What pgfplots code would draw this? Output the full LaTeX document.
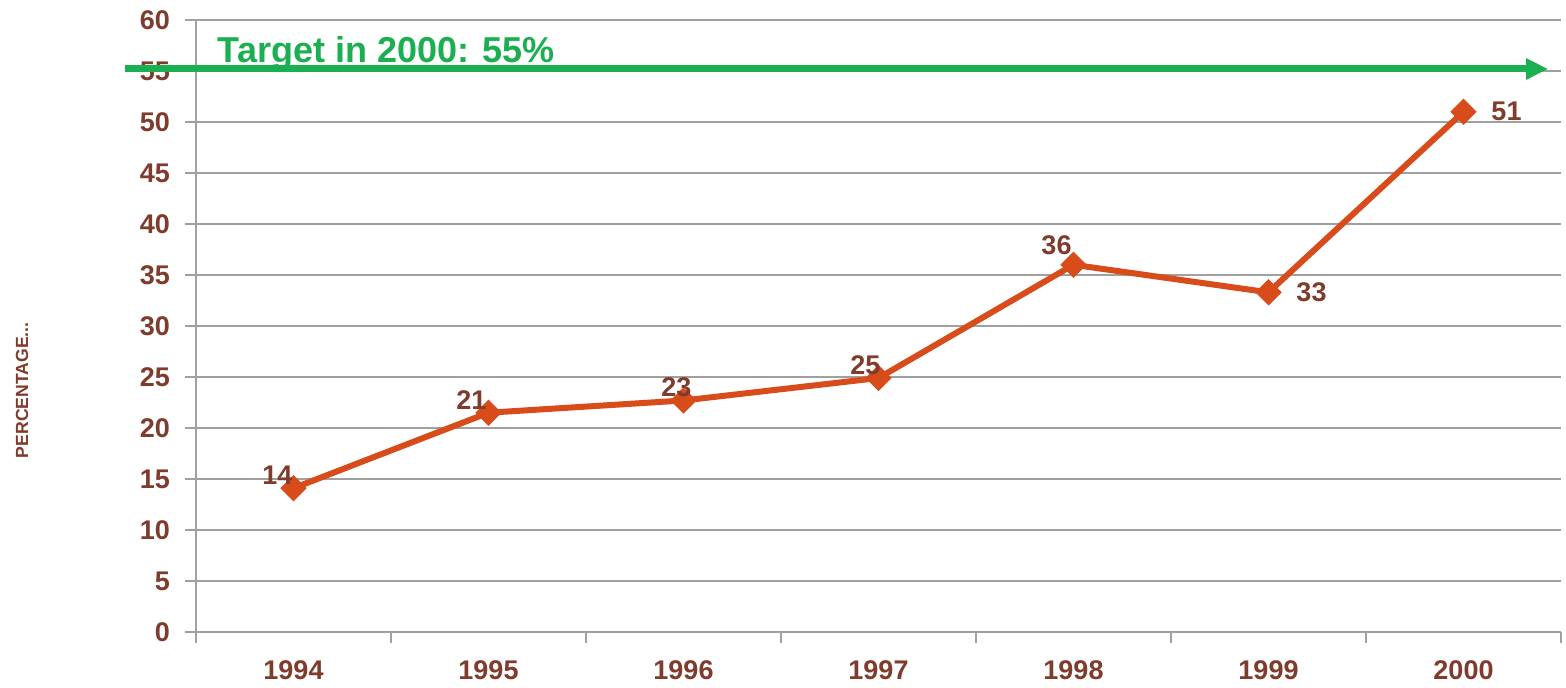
\documentclass[border=0pt]{standalone}
\usepackage{fontspec}
\setmainfont{Liberation Sans}
\usepackage{pgfplots}
\pgfplotsset{compat=1.18}
\usepackage{pgfplotstable}
\usetikzlibrary{arrows.meta}

\definecolor{brownlab}{HTML}{7F3B2C}
\definecolor{lineorange}{HTML}{D84B1A}
\definecolor{targetgreen}{HTML}{1AAF50}
\definecolor{gridgray}{HTML}{A0A0A0}

% share per year; dx/dy place the value labels
\pgfplotstableread{
x y    lab dx   dy
0 14.1 14  -8   6.5
1 21.5 21  -8.5 6.5
2 22.7 23  -3.5 6.5
3 24.9 25  -6.5 6.5
4 36.0 36  -8.5 10
5 33.3 33  21.5 0
6 51.0 51  21.5 0
}\share

\begin{document}
\begin{tikzpicture}
\path[use as bounding box] (-98pt,-27.5pt) rectangle (685pt,316pt);
\begin{axis}[
  scale only axis, width=682.5pt, height=306pt,
  xmin=-0.5, xmax=6.5, ymin=0, ymax=60,
  clip=false,
  axis lines=left,
  axis line style={-, draw=gridgray, line width=1pt},
  xtick={-0.5,0.5,...,6.5},
  xticklabels={1994,1995,1996,1997,1998,1999,2000,},
  xticklabel style={anchor=center, xshift=48.75pt, yshift=-13.5pt},
  ytick={0,5,...,60},
  yticklabel style={anchor=east, xshift=-4pt},
  ymajorgrids,
  grid style={draw=gridgray, line width=1pt},
  tick align=outside, major tick length=5.5pt,
  tick style={draw=gridgray, line width=1pt},
  ticklabel style={text=brownlab, font=\fontsize{13.5}{14}\selectfont\bfseries},
  /pgf/number format/assume math mode=true,
]
  \addplot[lineorange, line width=3pt,
    mark=square*, mark size=4.4pt,
    mark options={rotate=45, fill=lineorange, draw=lineorange, line width=0.5pt, solid},
    nodes near coords, point meta=explicit symbolic,
    visualization depends on={\thisrow{dx} \as \labdx},
    visualization depends on={\thisrow{dy} \as \labdy},
    every node near coord/.append style={anchor=center, xshift=\labdx pt, yshift=\labdy pt,
      inner sep=0pt, text=brownlab, font=\fontsize{13.5}{14}\selectfont\bfseries},
  ] table[x=x, y=y, meta=lab] {\share};

  \node[anchor=base west, inner sep=0pt, text=targetgreen,
    font=\fontsize{18}{18}\selectfont\bfseries] at (axis cs:-0.39,55.8) {Target in 2000: 55\%};
  \draw[targetgreen, line width=3.5pt, -{Triangle[length=11pt,width=10pt]}]
    (axis cs:-0.862,55.2) -- (axis cs:6.434,55.2);

  \node[rotate=90, text=brownlab, font=\fontsize{8.8}{9}\selectfont\bfseries]
    at (rel axis cs:-0.1275,0.395) {PERCENTAGE...};
\end{axis}
\end{tikzpicture}
\end{document}
